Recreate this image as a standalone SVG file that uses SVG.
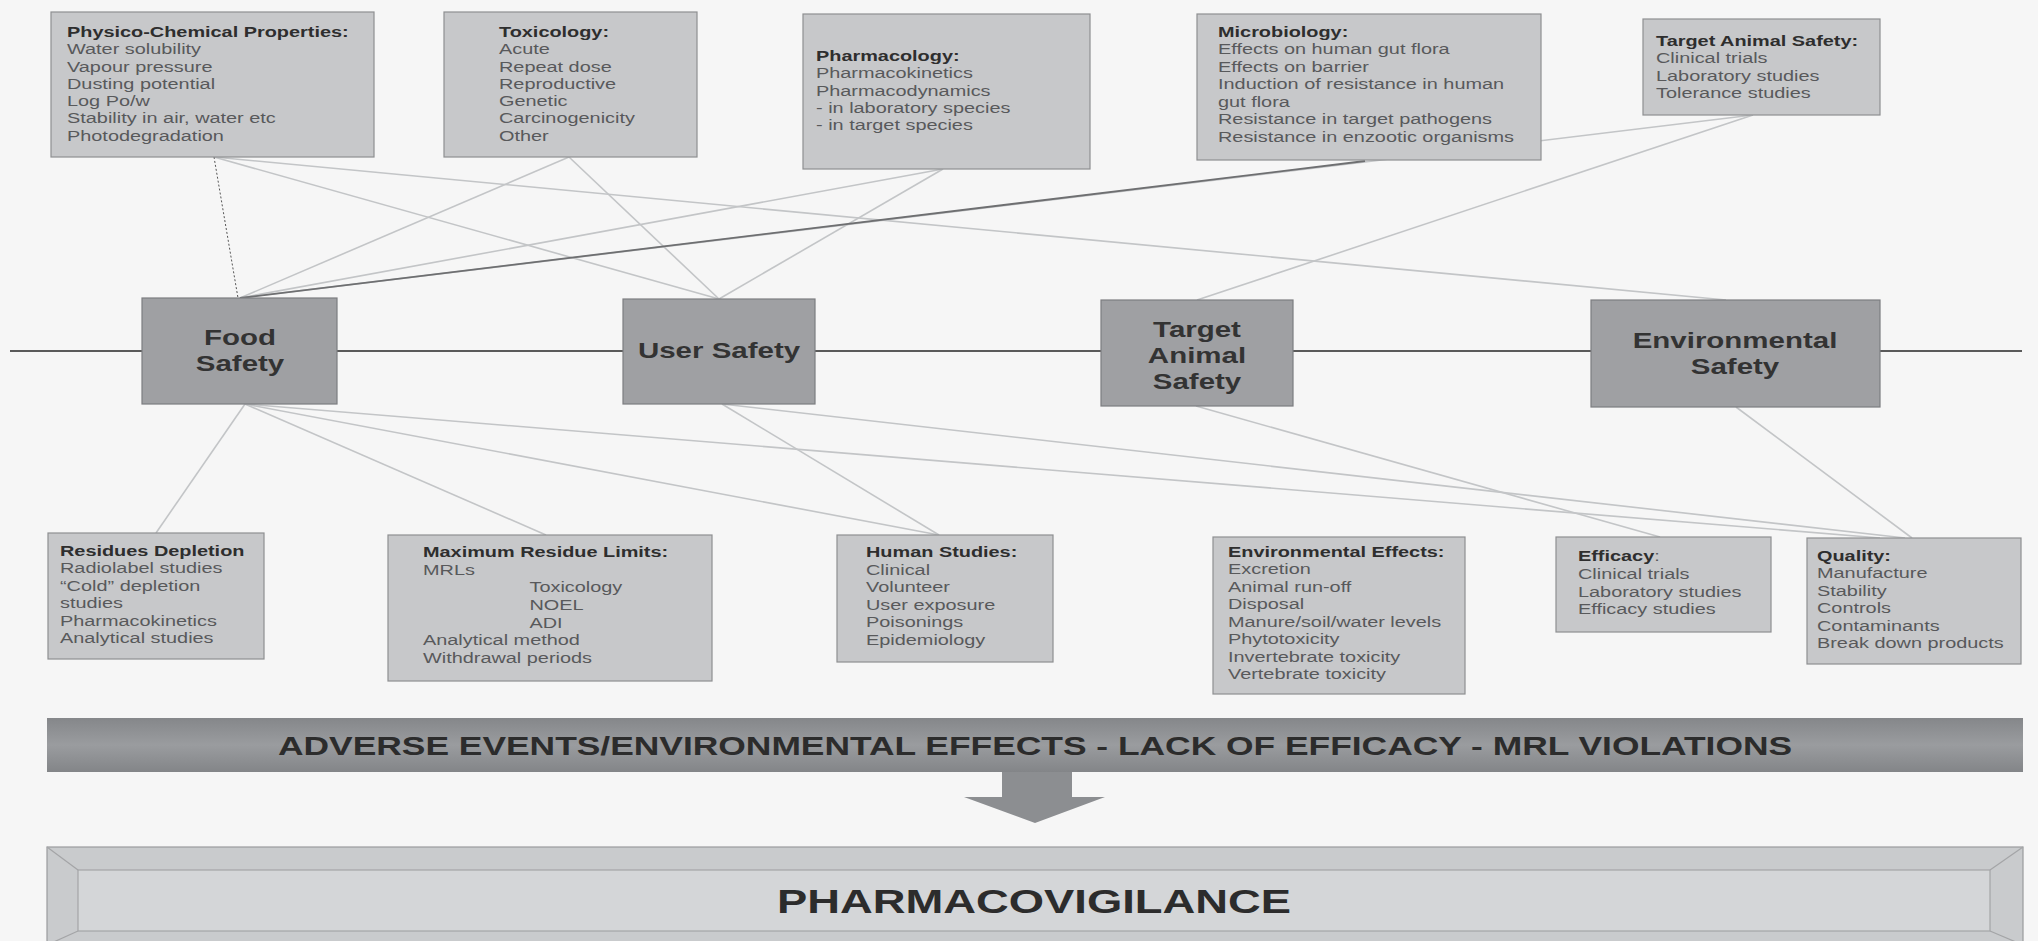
<svg xmlns="http://www.w3.org/2000/svg" width="2038" height="941" viewBox="0 0 2038 941">
<defs>
<style>
.bx{fill:#c7c8ca;stroke:#8e8f91;stroke-width:1.2}
.mb{fill:#9fa0a3;stroke:#7c7d80;stroke-width:1.2}
.t{font-family:"Liberation Sans",Arial,sans-serif;font-size:14px;fill:#58595b}
.h{font-weight:bold;fill:#2e2e2e}
.m{font-family:"Liberation Sans",Arial,sans-serif;font-size:22px;font-weight:bold;fill:#333;text-anchor:middle}
.cn{stroke:#c3c5c7;stroke-width:1.6;fill:none}
.big{font-family:"Liberation Sans",Arial,sans-serif;font-weight:bold;fill:#2c2c2c;text-anchor:middle}
</style>
<linearGradient id="bann" x1="0" y1="0" x2="0" y2="1">
<stop offset="0" stop-color="#85878a"/>
<stop offset="0.5" stop-color="#9a9c9f"/>
<stop offset="1" stop-color="#838588"/>
</linearGradient>
</defs>
<rect x="0" y="0" width="2038" height="941" fill="#f6f6f6"/>

<g id="connectors">
<line x1="10" y1="351" x2="2022" y2="351" stroke="#5a5a5a" stroke-width="2"/>
<line class="cn" x1="214" y1="157" x2="719" y2="299"/>
<line class="cn" x1="214" y1="157" x2="1726" y2="300"/>
<line class="cn" x1="569" y1="157" x2="240" y2="298"/>
<line class="cn" x1="569" y1="157" x2="719" y2="299"/>
<line class="cn" x1="943" y1="169" x2="240" y2="298"/>
<line class="cn" x1="943" y1="169" x2="719" y2="299"/>
<line class="cn" x1="1753" y1="115" x2="240" y2="298"/>
<line x1="1365" y1="161" x2="240" y2="298" stroke="#6e6f71" stroke-width="1.8"/>
<line class="cn" x1="1753" y1="115" x2="1197" y2="300"/>
<line x1="214" y1="157" x2="238" y2="298" stroke="#555" stroke-width="1" stroke-dasharray="2,2"/>
<line class="cn" x1="245" y1="404" x2="156" y2="533"/>
<line class="cn" x1="245" y1="404" x2="546" y2="535"/>
<line class="cn" x1="245" y1="404" x2="939" y2="535"/>
<line class="cn" x1="245" y1="404" x2="1880" y2="538"/>
<line class="cn" x1="722" y1="404" x2="939" y2="535"/>
<line class="cn" x1="722" y1="404" x2="1905" y2="538"/>
<line class="cn" x1="1196" y1="406" x2="1660" y2="537"/>
<line class="cn" x1="1736" y1="407" x2="1912" y2="538"/>
</g>

<g id="physico">
<rect class="bx" x="51" y="12" width="323" height="145"/>
<text class="t" transform="translate(67,37) scale(1.42,1)"><tspan x="0" class="h">Physico-Chemical Properties:</tspan><tspan x="0" dy="17.3">Water solubility</tspan><tspan x="0" dy="17.3">Vapour pressure</tspan><tspan x="0" dy="17.3">Dusting potential</tspan><tspan x="0" dy="17.3">Log Po/w</tspan><tspan x="0" dy="17.3">Stability in air, water etc</tspan><tspan x="0" dy="17.3">Photodegradation</tspan></text>
</g>

<g id="toxicology">
<rect class="bx" x="444" y="12" width="253" height="145"/>
<text class="t" transform="translate(499,37) scale(1.42,1)"><tspan x="0" class="h">Toxicology:</tspan><tspan x="0" dy="17.3">Acute</tspan><tspan x="0" dy="17.3">Repeat dose</tspan><tspan x="0" dy="17.3">Reproductive</tspan><tspan x="0" dy="17.3">Genetic</tspan><tspan x="0" dy="17.3">Carcinogenicity</tspan><tspan x="0" dy="17.3">Other</tspan></text>
</g>

<g id="pharmacology">
<rect class="bx" x="803" y="14" width="287" height="155"/>
<text class="t" transform="translate(816,61) scale(1.42,1)"><tspan x="0" class="h">Pharmacology:</tspan><tspan x="0" dy="17.3">Pharmacokinetics</tspan><tspan x="0" dy="17.3">Pharmacodynamics</tspan><tspan x="0" dy="17.3">- in laboratory species</tspan><tspan x="0" dy="17.3">- in target species</tspan></text>
</g>

<g id="microbiology">
<rect class="bx" x="1197" y="14" width="344" height="146"/>
<text class="t" transform="translate(1218,37) scale(1.42,1)"><tspan x="0" class="h">Microbiology:</tspan><tspan x="0" dy="17.5">Effects on human gut flora</tspan><tspan x="0" dy="17.5">Effects on barrier</tspan><tspan x="0" dy="17.5">Induction of resistance in human</tspan><tspan x="0" dy="17.5">gut flora</tspan><tspan x="0" dy="17.5">Resistance in target pathogens</tspan><tspan x="0" dy="17.5">Resistance in enzootic organisms</tspan></text>
</g>

<g id="target-animal-studies">
<rect class="bx" x="1643" y="19" width="237" height="96"/>
<text class="t" transform="translate(1656,46) scale(1.42,1)"><tspan x="0" class="h">Target Animal Safety:</tspan><tspan x="0" dy="17.3">Clinical trials</tspan><tspan x="0" dy="17.3">Laboratory studies</tspan><tspan x="0" dy="17.3">Tolerance studies</tspan></text>
</g>

<g id="food-safety">
<rect class="mb" x="142" y="298" width="195" height="106"/>
<text class="m" transform="translate(240,345) scale(1.34,1)"><tspan x="0">Food</tspan><tspan x="0" dy="26">Safety</tspan></text>
</g>

<g id="user-safety">
<rect class="mb" x="623" y="299" width="192" height="105"/>
<text class="m" transform="translate(719,358) scale(1.34,1)">User Safety</text>
</g>

<g id="target-animal-safety">
<rect class="mb" x="1101" y="300" width="192" height="106"/>
<text class="m" transform="translate(1197,337) scale(1.34,1)"><tspan x="0">Target</tspan><tspan x="0" dy="26">Animal</tspan><tspan x="0" dy="26">Safety</tspan></text>
</g>

<g id="environmental-safety">
<rect class="mb" x="1591" y="300" width="289" height="107"/>
<text class="m" transform="translate(1735,348) scale(1.34,1)"><tspan x="0">Environmental</tspan><tspan x="0" dy="26">Safety</tspan></text>
</g>

<g id="residues">
<rect class="bx" x="48" y="533" width="216" height="126"/>
<text class="t" transform="translate(60,556) scale(1.42,1)"><tspan x="0" class="h">Residues Depletion</tspan><tspan x="0" dy="17.4">Radiolabel studies</tspan><tspan x="0" dy="17.4">“Cold” depletion</tspan><tspan x="0" dy="17.4">studies</tspan><tspan x="0" dy="17.4">Pharmacokinetics</tspan><tspan x="0" dy="17.4">Analytical studies</tspan></text>
</g>

<g id="mrl">
<rect class="bx" x="388" y="535" width="324" height="146"/>
<text class="t" transform="translate(423,557) scale(1.42,1)"><tspan x="0" class="h">Maximum Residue Limits:</tspan><tspan x="0" dy="17.7">MRLs</tspan><tspan x="75" dy="17.7">Toxicology</tspan><tspan x="75" dy="17.7">NOEL</tspan><tspan x="75" dy="17.7">ADI</tspan><tspan x="0" dy="17.7">Analytical method</tspan><tspan x="0" dy="17.7">Withdrawal periods</tspan></text>
</g>

<g id="human-studies">
<rect class="bx" x="837" y="535" width="216" height="127"/>
<text class="t" transform="translate(866,557) scale(1.42,1)"><tspan x="0" class="h">Human Studies:</tspan><tspan x="0" dy="17.6">Clinical</tspan><tspan x="0" dy="17.6">Volunteer</tspan><tspan x="0" dy="17.6">User exposure</tspan><tspan x="0" dy="17.6">Poisonings</tspan><tspan x="0" dy="17.6">Epidemiology</tspan></text>
</g>

<g id="environmental-effects">
<rect class="bx" x="1213" y="537" width="252" height="157"/>
<text class="t" transform="translate(1228,557) scale(1.42,1)"><tspan x="0" class="h">Environmental Effects:</tspan><tspan x="0" dy="17.5">Excretion</tspan><tspan x="0" dy="17.5">Animal run-off</tspan><tspan x="0" dy="17.5">Disposal</tspan><tspan x="0" dy="17.5">Manure/soil/water levels</tspan><tspan x="0" dy="17.5">Phytotoxicity</tspan><tspan x="0" dy="17.5">Invertebrate toxicity</tspan><tspan x="0" dy="17.5">Vertebrate toxicity</tspan></text>
</g>

<g id="efficacy">
<rect class="bx" x="1556" y="537" width="215" height="95"/>
<text class="t" transform="translate(1578,561) scale(1.42,1)"><tspan x="0" class="h">Efficacy</tspan><tspan>:</tspan><tspan x="0" dy="17.8">Clinical trials</tspan><tspan x="0" dy="17.8">Laboratory studies</tspan><tspan x="0" dy="17.8">Efficacy studies</tspan></text>
</g>

<g id="quality">
<rect class="bx" x="1807" y="538" width="214" height="126"/>
<text class="t" transform="translate(1817,561) scale(1.42,1)"><tspan x="0" class="h">Quality:</tspan><tspan x="0" dy="17.4">Manufacture</tspan><tspan x="0" dy="17.4">Stability</tspan><tspan x="0" dy="17.4">Controls</tspan><tspan x="0" dy="17.4">Contaminants</tspan><tspan x="0" dy="17.4">Break down products</tspan></text>
</g>

<g id="adverse-events">
<rect x="47" y="718" width="1976" height="54" fill="url(#bann)"/>
<text class="big" font-size="25" transform="translate(1035,755) scale(1.416,1)">ADVERSE EVENTS/ENVIRONMENTAL EFFECTS - LACK OF EFFICACY - MRL VIOLATIONS</text>
</g>

<g id="arrow">
<polygon points="1002,772 1072,772 1072,797 1105,797 1035,823 964,797 1002,797" fill="#8c8e91"/>
</g>

<g id="pharmacovigilance">
<rect x="47" y="847" width="1976" height="100" fill="#c9cbcd" stroke="#9a9b9d" stroke-width="1.2"/>
<rect x="78" y="870" width="1912" height="61" fill="#d4d6d8" stroke="#a4a5a7" stroke-width="1.2"/>
<line x1="47" y1="847" x2="78" y2="870" stroke="#a4a5a7" stroke-width="1.2"/>
<line x1="2023" y1="847" x2="1990" y2="870" stroke="#a4a5a7" stroke-width="1.2"/>
<line x1="47" y1="945" x2="78" y2="931" stroke="#a4a5a7" stroke-width="1.2"/>
<line x1="2023" y1="945" x2="1990" y2="931" stroke="#a4a5a7" stroke-width="1.2"/>
<text class="big" font-size="34" transform="translate(1034,913) scale(1.334,1)">PHARMACOVIGILANCE</text>
</g>
</svg>
